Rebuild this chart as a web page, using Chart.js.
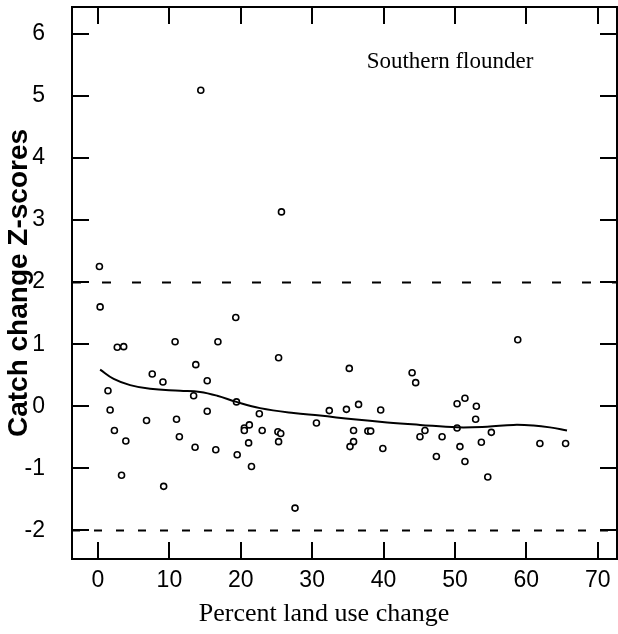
<!DOCTYPE html>
<html>
<head>
<meta charset="utf-8">
<script src="https://cdn.jsdelivr.net/npm/chart.js@4/dist/chart.umd.min.js"></script>
<style>
    body { margin: 0; background: #fff; }
    canvas { display: block; }
</style>
</head>
<body>
<canvas id="flounder-chart" width="618" height="634"></canvas>
<script>
// Southern flounder - catch change vs land use change

// Scatter points (percent land use change, catch change Z-score)
const landChange = [
    0.2, 0.3, 19.3, 2.7, 3.6, 10.8, 16.8, 25.3, 13.7, 7.6,
    9.1, 15.3, 1.4, 13.4, 19.4, 1.7, 15.3, 22.6, 32.4, 6.8,
    11.0, 30.6, 2.3, 20.5, 21.2, 20.5, 23.0, 25.2, 25.6, 3.9,
    11.4, 21.1, 25.3, 13.6, 16.5, 19.5, 21.5, 3.3, 9.2, 27.6,
    14.4, 25.7,
    58.8, 35.2, 44.0, 44.5, 51.4, 50.3, 53.0, 36.5, 34.8, 39.6,
    52.9, 50.3, 35.8, 37.8, 38.2, 45.8, 55.1, 45.1, 48.2, 35.8,
    35.3, 50.7, 39.9, 53.7, 61.9, 65.5, 47.4, 51.4, 54.6
];
const zScores = [
    2.25, 1.60, 1.43, 0.95, 0.96, 1.04, 1.04, 0.78, 0.67, 0.52,
    0.39, 0.41, 0.25, 0.17, 0.07, -0.06, -0.08, -0.12, -0.07, -0.23,
    -0.21, -0.27, -0.39, -0.35, -0.30, -0.39, -0.39, -0.41, -0.44, -0.56,
    -0.49, -0.59, -0.57, -0.66, -0.70, -0.78, -0.97, -1.11, -1.29, -1.64,
    5.09, 3.13,
    1.07, 0.61, 0.54, 0.38, 0.13, 0.04, 0.00, 0.03, -0.05, -0.06,
    -0.21, -0.35, -0.39, -0.40, -0.40, -0.39, -0.42, -0.49, -0.49, -0.57,
    -0.65, -0.65, -0.68, -0.58, -0.60, -0.60, -0.81, -0.89, -1.14
];

// Smoothed trend line
const smoothX = [0.3, 2.2, 4.5, 7.3, 11.5, 14.3, 16.7, 19.4, 22.7, 27.4, 31.1, 35.8, 40.5, 45.1, 50.3, 54.5, 58.2, 61.0, 63.3, 65.7];
const smoothY = [0.59, 0.44, 0.34, 0.28, 0.25, 0.23, 0.17, 0.07, -0.03, -0.11, -0.15, -0.21, -0.26, -0.30, -0.34, -0.33, -0.30, -0.31, -0.34, -0.39];

// Reference lines and ticks
const refLines = [2, -2];
const xTicks = [0, 10, 20, 30, 40, 50, 60, 70];
const yTicks = [-2, -1, 0, 1, 2, 3, 4, 5, 6];

const TICK_LEN = 17;

// Frame, inward ticks, dashed reference lines and text
const framePlugin = {
    id: 'frame',
    beforeDatasetsDraw(chart) {
        const ctx = chart.ctx;
        const area = chart.chartArea;
        const y = chart.scales.y;
        ctx.save();
        ctx.strokeStyle = '#000';
        ctx.lineWidth = 2;
        refLines.forEach((v, i) => {
            ctx.setLineDash(i === 0 ? [9, 21] : [8, 14]);
            const py = Math.round(y.getPixelForValue(v)) + 0.5;
            ctx.beginPath();
            ctx.moveTo(area.left, py);
            ctx.lineTo(area.right, py);
            ctx.stroke();
        });
        ctx.restore();
    },
    afterDraw(chart) {
        const ctx = chart.ctx;
        const area = chart.chartArea;
        const x = chart.scales.x;
        const y = chart.scales.y;
        ctx.save();
        ctx.strokeStyle = '#000';
        ctx.lineWidth = 2;
        ctx.strokeRect(area.left, area.top, area.right - area.left, area.bottom - area.top);

        ctx.beginPath();
        xTicks.forEach(v => {
            const px = Math.round(x.getPixelForValue(v));
            ctx.moveTo(px, area.bottom);
            ctx.lineTo(px, area.bottom - TICK_LEN);
            ctx.moveTo(px, area.top);
            ctx.lineTo(px, area.top + TICK_LEN);
        });
        yTicks.forEach(v => {
            const py = Math.round(y.getPixelForValue(v));
            ctx.moveTo(area.left, py);
            ctx.lineTo(area.left + TICK_LEN, py);
            ctx.moveTo(area.right, py);
            ctx.lineTo(area.right - TICK_LEN, py);
        });
        ctx.stroke();

        ctx.fillStyle = '#000';
        ctx.textAlign = 'center';
        ctx.textBaseline = 'alphabetic';
        ctx.font = '23px "Liberation Serif"';
        ctx.fillText('Southern flounder', 450, 68);
        ctx.font = '26px "Liberation Serif"';
        ctx.fillText('Percent land use change', 324, 621);
        ctx.restore();
    }
};

function initChart() {
    const ctx = document.getElementById('flounder-chart').getContext('2d');
    const points = landChange.map((v, i) => ({ x: v, y: zScores[i] }));
    const smooth = smoothX.map((v, i) => ({ x: v, y: smoothY[i] }));

    new Chart(ctx, {
        type: 'scatter',
        data: {
            datasets: [
                {
                    label: 'Smoothed',
                    data: smooth,
                    showLine: true,
                    borderColor: '#000',
                    borderWidth: 2,
                    tension: 0.4,
                    pointRadius: 0,
                    fill: false
                },
                {
                    label: 'Southern flounder',
                    data: points,
                    pointStyle: 'circle',
                    pointRadius: 3,
                    borderWidth: 1.6,
                    borderColor: '#000',
                    backgroundColor: '#fff'
                }
            ]
        },
        options: {
            responsive: false,
            animation: false,
            layout: {
                autoPadding: false,
                padding: { left: 0, top: 7, right: 1, bottom: 0 }
            },
            plugins: {
                legend: { display: false },
                tooltip: { enabled: false }
            },
            scales: {
                x: {
                    type: 'linear',
                    min: -3.64,
                    max: 72.7,
                    afterBuildTicks: scale => { scale.ticks = xTicks.map(v => ({ value: v })); },
                    afterFit: scale => {
                        scale.height = 75;
                        scale.paddingLeft = 0;
                        scale.paddingRight = 0;
                    },
                    grid: { display: false, drawTicks: false },
                    border: { display: false },
                    ticks: {
                        padding: 8,
                        color: '#000',
                        maxRotation: 0,
                        font: { family: '"Liberation Sans"', size: 23 }
                    }
                },
                y: {
                    type: 'linear',
                    min: -2.46,
                    max: 6.43,
                    afterBuildTicks: scale => { scale.ticks = yTicks.map(v => ({ value: v })); },
                    afterFit: scale => {
                        scale.width = 72;
                        scale.paddingTop = 0;
                        scale.paddingBottom = 0;
                    },
                    grid: { display: false, drawTicks: false },
                    border: { display: false },
                    ticks: {
                        padding: 27,
                        color: '#000',
                        font: { family: '"Liberation Sans"', size: 23 }
                    },
                    title: {
                        display: true,
                        text: 'Catch change Z-scores',
                        color: '#000',
                        padding: { top: 2, bottom: 0 },
                        font: { family: '"Liberation Sans"', size: 28, weight: 'bold' }
                    }
                }
            }
        },
        plugins: [framePlugin]
    });
}

initChart();
</script>
</body>
</html>
